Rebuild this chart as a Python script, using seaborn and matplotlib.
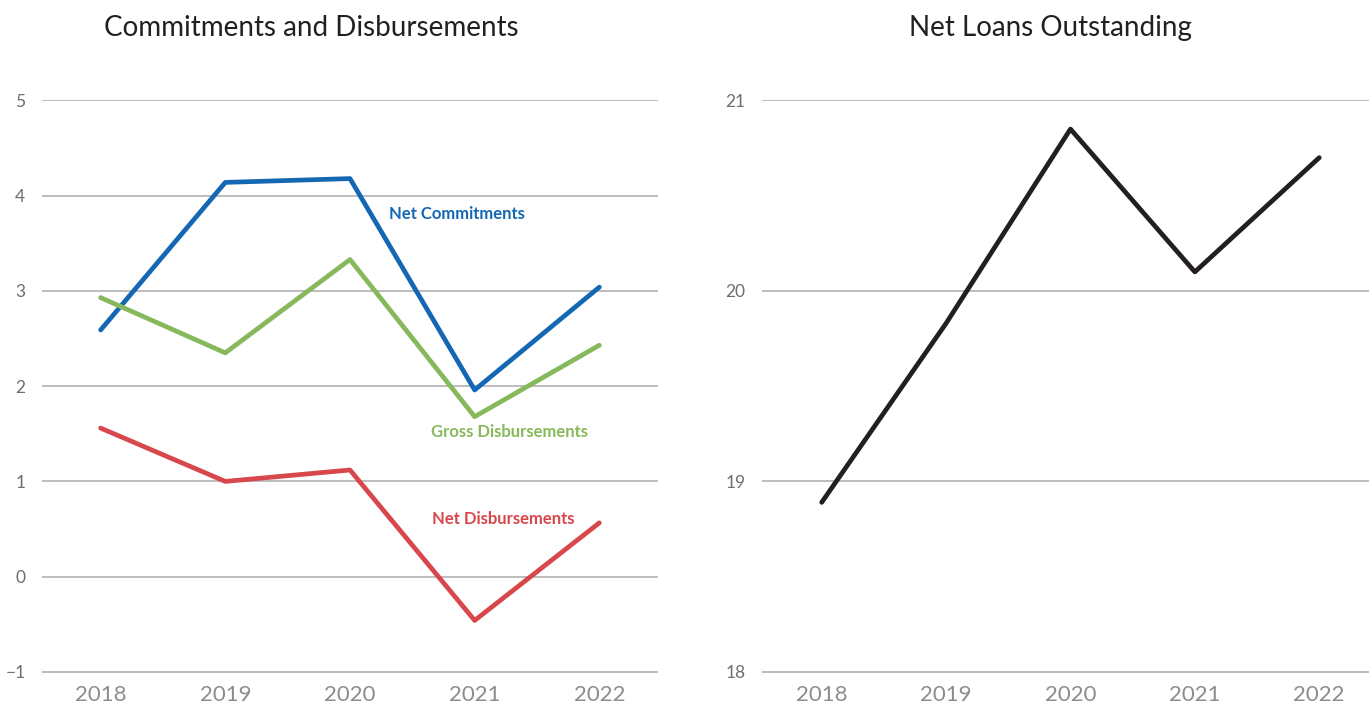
import pandas as pd
import numpy as np
import seaborn as sns
import matplotlib.pyplot as plt

# --- Data ---
years = [2018, 2019, 2020, 2021, 2022]
net_commitments = [2.59, 4.14, 4.18, 1.96, 3.04]
gross_disbursements = [2.93, 2.35, 3.33, 1.68, 2.43]
net_disbursements = [1.56, 1.00, 1.12, -0.46, 0.565]
net_loans = [18.89, 19.83, 20.85, 20.10, 20.70]

left_series = ["Net Commitments", "Gross Disbursements", "Net Disbursements"]
colors = {
    "Net Commitments": "#1467B3",
    "Gross Disbursements": "#86B95B",
    "Net Disbursements": "#D8474B",
}

df = pd.DataFrame({
    "Year": years * 3,
    "Value": net_commitments + gross_disbursements + net_disbursements,
    "Series": sum([[s] * len(years) for s in left_series], []),
})
df_loans = pd.DataFrame({"Year": years, "Value": net_loans})

sns.set_theme(style="white")
plt.rcParams["font.family"] = ["Lato", "DejaVu Sans"]

fig = plt.figure(figsize=(13.69, 7.06), dpi=100)
ax1 = fig.add_axes([0.0307, 0.047, 0.4499, 0.812])
ax2 = fig.add_axes([0.5566, 0.047, 0.4434, 0.812])

sns.lineplot(data=df, x="Year", y="Value", hue="Series", palette=colors,
             linewidth=3.4, legend=False, ax=ax1)
sns.lineplot(data=df_loans, x="Year", y="Value", color="#231F20",
             linewidth=3.4, ax=ax2)

# --- Inline labels ---
ax1.text(2020.31, 3.81, "Net Commitments", color=colors["Net Commitments"],
         fontsize=12, fontweight="bold", va="center")
ax1.text(2020.65, 1.52, "Gross Disbursements", color=colors["Gross Disbursements"],
         fontsize=12, fontweight="bold", va="center")
ax1.text(2020.66, 0.61, "Net Disbursements", color=colors["Net Disbursements"],
         fontsize=12, fontweight="bold", va="center")

# --- Axes styling ---
for ax, lim, ticks, xr in [
    (ax1, (-1.01, 5.01), range(-1, 6), (2017.53, 2022.47)),
    (ax2, (17.995, 21.005), range(18, 22), (2017.52, 2022.40)),
]:
    ax.set_ylim(*lim)
    ax.set_xlim(*xr)
    ax.set_yticks(list(ticks))
    ax.set_xticks(years)
    ax.set_xticklabels([str(y) for y in years])
    ax.grid(axis="y", color="#ABABAB", linewidth=1.1)
    ax.set_axisbelow(True)
    for sp in ax.spines.values():
        sp.set_visible(False)
    ax.set_xlabel("")
    ax.set_ylabel("")
    ax.tick_params(axis="y", length=0, pad=12, labelsize=12.5, labelcolor="#6E6E6E")
    ax.tick_params(axis="x", length=0, pad=9, labelsize=16, labelcolor="#8C8C8C")

ax1.set_title("Commitments and Disbursements", fontsize=20, color="#231F20",
              pad=46, x=0.438)
ax2.set_title("Net Loans Outstanding", fontsize=20, color="#231F20",
              pad=46, x=0.476)

fig.savefig("out.png", dpi=100)
